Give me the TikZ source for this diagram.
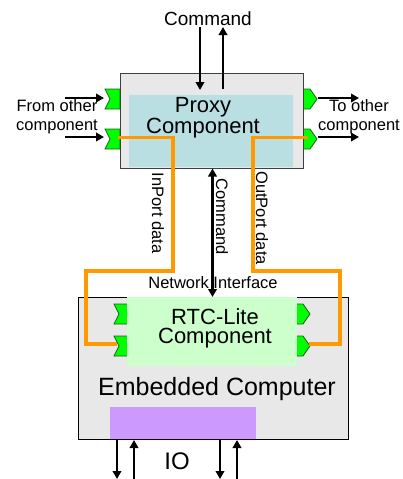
\documentclass[tikz,border=0pt]{standalone}
\usepackage{fontspec}
\setmainfont{Liberation Sans}
\usetikzlibrary{arrows.meta}
\definecolor{boxgray}{HTML}{E8E8E8}
\definecolor{proxyblue}{HTML}{B9DFE3}
\definecolor{rtcgreen}{HTML}{CCFFCC}
\definecolor{iopurple}{HTML}{CC99FF}
\definecolor{dataorange}{HTML}{FF9900}
\definecolor{portgreen}{HTML}{00FF00}
\definecolor{portedge}{HTML}{1F5F1F}
\begin{document}
\begin{tikzpicture}[x=1pt,y=-1pt,
  box/.style={draw=black!75, line width=1pt, fill=boxgray, inner sep=0pt},
  panel/.style={draw=none, inner sep=0pt},
  label/.style={inner sep=0pt, align=center},
  sig/.style={line width=2.6pt, -{Triangle[length=8pt,width=8.5pt]}},
  bisig/.style={line width=2.6pt, {Triangle[length=8pt,width=8.5pt]}-{Triangle[length=8pt,width=8.5pt]}},
  data/.style={draw=dataorange, line width=3.5pt, line join=miter},
  portshape/.style={draw=portedge, line width=0.8pt, fill=portgreen, line join=miter},
  inport/.pic={\draw[portshape] (-7.5,-10) -- (7.5,-10) -- (7.5,10) -- (-7.5,10) -- (-2.5,0) -- cycle;},
  outport/.pic={\draw[portshape] (-7,-10) -- (1,-10) -- (8,0) -- (1,10) -- (-7,10) -- cycle;}
]
\useasboundingbox (0,0) rectangle (403,479);

% ports of the proxy component
\pic at (112.5,99) {inport};
\pic at (112.5,139) {inport};
\pic at (309,99) {outport};
\pic at (309,139) {outport};

% proxy component
\node[box, minimum width=183pt, minimum height=95pt] (proxy) at (211.5,120.5) {};
\node[panel, fill=proxyblue, minimum width=164pt, minimum height=72pt] (proxyin) at (211,131) {};
\node[label, font=\fontsize{22}{19}\selectfont] (proxytext) at (203,118) {Proxy\\Component};

% embedded computer
\node[box, draw=black, minimum width=270pt, minimum height=142pt] (emb) at (213,368) {};
\pic at (121.5,314) {inport};
\pic at (121.5,346) {inport};
\pic at (302,314) {outport};
\pic at (302,346) {outport};
\node[panel, fill=rtcgreen, minimum width=170pt, minimum height=69pt] (rtc) at (212,331.5) {};
\node[label, font=\fontsize{22}{19}\selectfont] (rtctext) at (215,328) {RTC-Lite\\Component};
\node[label, font=\fontsize{25}{30}\selectfont] (embtext) at (217,389) {Embedded Computer};
\node[panel, fill=iopurple, minimum width=146pt, minimum height=32pt] (io) at (183,423) {};
\node[label, font=\fontsize{24}{28}\selectfont] (iotext) at (177,461) {IO};

% external command arrows
\node[label, font=\fontsize{19}{22}\selectfont] (cmdtext) at (208,19) {Command};
\coordinate (cmdinA) at (200,27);
\coordinate (cmdinB) at (200,90);
\coordinate (cmdoutA) at (223,89);
\coordinate (cmdoutB) at (223,27);
\draw[sig] (cmdinA) -- (cmdinB);
\draw[sig] (cmdoutA) -- (cmdoutB);

% links to other components
\node[label, font=\fontsize{16.5}{19}\selectfont] (fromtext) at (57,117) {From other\\component};
\node[label, font=\fontsize{16.5}{19}\selectfont] (totext) at (359,117) {To other\\component};
\coordinate (fromA1) at (65,98);  \coordinate (fromB1) at (104,98);
\coordinate (fromA2) at (65,137); \coordinate (fromB2) at (104,137);
\coordinate (toA1) at (318,98);   \coordinate (toB1) at (359,98);
\coordinate (toA2) at (318,137);  \coordinate (toB2) at (359,137);
\draw[sig] (fromA1) -- (fromB1);
\draw[sig] (fromA2) -- (fromB2);
\draw[sig] (toA1) -- (toB1);
\draw[sig] (toA2) -- (toB2);

% network command link
\coordinate (netA) at (212.5,168.5);
\coordinate (netB) at (212.5,297);
\draw[bisig] (netA) -- (netB);
\node[label, rotate=-90, font=\fontsize{16.5}{19}\selectfont] (cmdlabel) at (222,216.5) {Command};
\node[label, rotate=-90, font=\fontsize{16.5}{19}\selectfont] (inlabel) at (158,213) {InPort data};
\node[label, rotate=-90, font=\fontsize{16.5}{19}\selectfont] (outlabel) at (262,218) {OutPort data};
\node[label, font=\fontsize{16.5}{19}\selectfont] (nettext) at (213,283) {Network Interface};

% data flow paths
\coordinate (inSrc) at (118,137.5);
\coordinate (inDst) at (117,344);
\coordinate (outSrc) at (308,137.5);
\coordinate (outDst) at (309,344);
\draw[data] (inSrc) -- (173,137.5) -- (173,271) -- (86,271) -- (86,344) -- (inDst);
\draw[data] (outSrc) -- (253,137.5) -- (253,271) -- (340,271) -- (340,344) -- (outDst);

% IO lines
\coordinate (ioA1) at (117,439); \coordinate (ioB1) at (117,479);
\coordinate (ioA2) at (134,479); \coordinate (ioB2) at (134,440);
\coordinate (ioA3) at (220,439); \coordinate (ioB3) at (220,479);
\coordinate (ioA4) at (237,479); \coordinate (ioB4) at (237,440);
\draw[sig] (ioA1) -- (ioB1);
\draw[sig] (ioA2) -- (ioB2);
\draw[sig] (ioA3) -- (ioB3);
\draw[sig] (ioA4) -- (ioB4);
\end{tikzpicture}
\end{document}
